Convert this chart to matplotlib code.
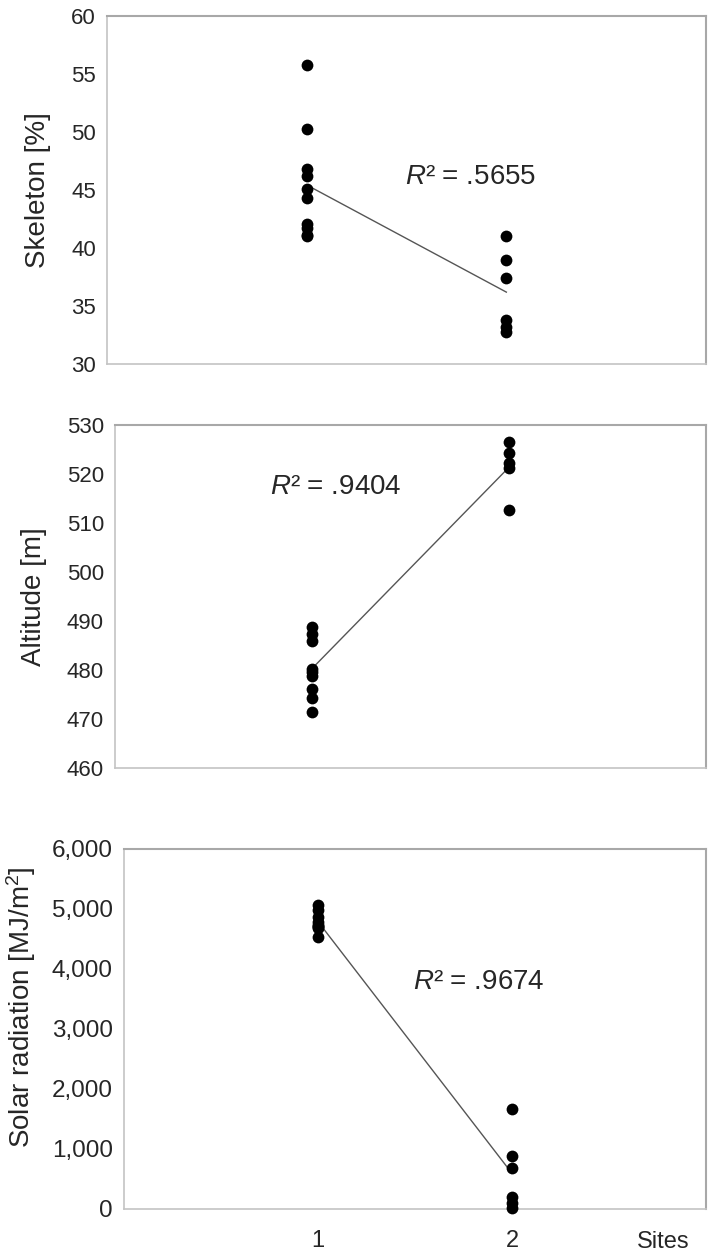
import numpy as np
import matplotlib.pyplot as plt
from matplotlib.ticker import FuncFormatter

plt.rcParams['font.family'] = ['Liberation Sans', 'DejaVu Sans']
plt.rcParams['mathtext.fontset'] = 'custom'
plt.rcParams['mathtext.it'] = 'Liberation Sans:italic'
plt.rcParams['mathtext.rm'] = 'Liberation Sans'

# values (site 1 / site 2)
skel_1 = [55.8, 50.3, 46.8, 46.2, 45.1, 44.3, 42.1, 41.7, 41.1, 41.0]
skel_2 = [41.0, 39.0, 37.4, 33.8, 33.2, 32.8]
alt_1 = [488.8, 487.4, 485.9, 480.2, 479.6, 478.8, 476.2, 474.2, 471.5]
alt_2 = [526.6, 524.2, 522.2, 521.2, 512.7]
rad_1 = [5070, 4990, 4870, 4790, 4740, 4720, 4700, 4680, 4540]
rad_2 = [1670, 890, 680, 200, 100, 20]

r2_labels = ['.5655', '.9404', '.9674']
y_labels = ['Skeleton [%]', 'Altitude [m]', 'Solar radiation [MJ/m$^2$]']
y_limits = [(30, 60), (460, 530), (0, 6000)]
y_steps = [5, 10, 1000]
sites = [1, 2]

txt = '#262626'

fig = plt.figure(figsize=(7.09, 12.57), dpi=100)
rects = [[0.1509, 0.7104, 0.8449, 0.2768],
         [0.1622, 0.3890, 0.8336, 0.2729],
         [0.1749, 0.0382, 0.8209, 0.2864]]
data = [(skel_1, skel_2), (alt_1, alt_2), (rad_1, rad_2)]
r2_pos = [(1.82, 46.1), (1.12, 517.4), (1.83, 3790)]
lab_x = [-0.093, -0.115, -0.148]
lab_y = [0.5, 0.5, 0.56]
tick_fs = [16, 16, 17.5]

for i in range(3):
    ax = fig.add_axes(rects[i])
    a, b = data[i]
    xs = [1] * len(a) + [2] * len(b)
    ys = list(a) + list(b)
    ax.scatter(xs, ys, s=72, color='black', zorder=3, clip_on=False, linewidths=0)
    # linear trend through the points
    k, c = np.polyfit(xs, ys, 1)
    ax.plot(sites, [k * s + c for s in sites], color='#555555', lw=1.0, zorder=2)
    ax.text(r2_pos[i][0], r2_pos[i][1], '$R$² = ' + r2_labels[i], fontsize=20,
            color=txt, ha='center', va='center')

    ax.set_xlim(0, 3)
    ax.set_ylim(*y_limits[i])
    lo, hi = y_limits[i]
    ax.set_yticks(np.arange(lo, hi + y_steps[i] / 2, y_steps[i]))
    ax.tick_params(axis='y', length=0, pad=8, labelsize=tick_fs[i], labelcolor=txt)
    if i == 2:
        ax.yaxis.set_major_formatter(FuncFormatter(lambda v, p: f'{int(v):,}'))
        ax.set_xticks(sites)
        ax.set_xticklabels(['1', '2'])
        ax.tick_params(axis='x', length=0, pad=15, labelsize=17, labelcolor=txt)
    else:
        ax.set_xticks([])
    ax.set_ylabel(y_labels[i], fontsize=20, color=txt)
    ax.yaxis.set_label_coords(lab_x[i], lab_y[i])

    for side in ['left', 'bottom']:
        ax.spines[side].set_color('#c4c4c4')
        ax.spines[side].set_linewidth(1.2)
    for side in ['top', 'right']:
        ax.spines[side].set_color('#a8a8a8')
        ax.spines[side].set_linewidth(1.5)

fig.text(663 / 709, 1 - 1242 / 1257, 'Sites', fontsize=17, color=txt,
         ha='center', va='center')

fig.savefig('out.png', dpi=100)
